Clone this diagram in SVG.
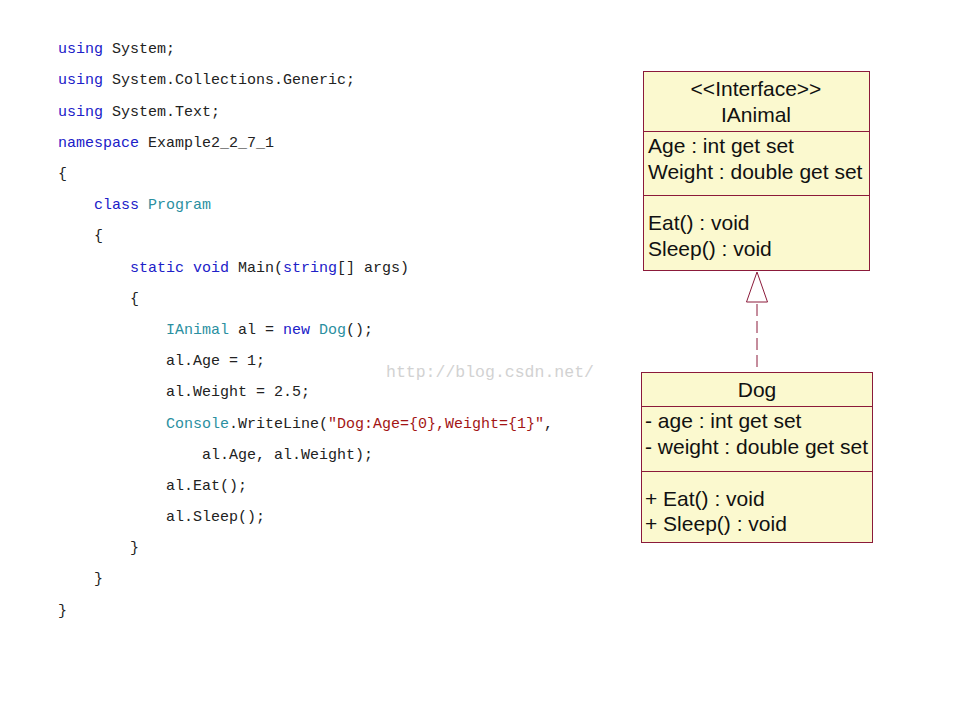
<svg xmlns="http://www.w3.org/2000/svg" width="960" height="720" viewBox="0 0 960 720">
<style>
.code{font-family:"Liberation Mono","DejaVu Sans Mono",monospace;font-size:15px;fill:#222}
.kw{fill:#2020c8}
.ty{fill:#2b8f9f}
.st{fill:#a31515}
.wm{font-family:"Liberation Mono",monospace;font-size:16.5px;fill:#d2d2d2}
.box{fill:#fbf9cf;stroke:#8b1a3a;stroke-width:1}
.div{stroke:#8b1a3a;stroke-width:1}
.uml{font-family:"Liberation Sans",Arial,sans-serif;font-size:21px;fill:#111}
.c{text-anchor:middle}
</style>
<rect width="960" height="720" fill="#ffffff"/>
<g id="code" class="code" xml:space="preserve">
<text x="58" y="53"><tspan class="kw">using</tspan> System;</text>
<text x="58" y="84"><tspan class="kw">using</tspan> System.Collections.Generic;</text>
<text x="58" y="116"><tspan class="kw">using</tspan> System.Text;</text>
<text x="58" y="147"><tspan class="kw">namespace</tspan> Example2_2_7_1</text>
<text x="58" y="178">{</text>
<text x="94" y="209"><tspan class="kw">class</tspan> <tspan class="ty">Program</tspan></text>
<text x="94" y="240">{</text>
<text x="130" y="272"><tspan class="kw">static</tspan> <tspan class="kw">void</tspan> Main(<tspan class="kw">string</tspan>[] args)</text>
<text x="130" y="303">{</text>
<text x="166" y="334"><tspan class="ty">IAnimal</tspan> al = <tspan class="kw">new</tspan> <tspan class="ty">Dog</tspan>();</text>
<text x="166" y="365">al.Age = 1;</text>
<text x="166" y="396">al.Weight = 2.5;</text>
<text x="166" y="428"><tspan class="ty">Console</tspan>.WriteLine(<tspan class="st">"Dog:Age={0},Weight={1}"</tspan>,</text>
<text x="202" y="459">al.Age, al.Weight);</text>
<text x="166" y="490">al.Eat();</text>
<text x="166" y="521">al.Sleep();</text>
<text x="130" y="552">}</text>
<text x="94" y="583">}</text>
<text x="58" y="615">}</text>
</g>
<text class="wm" x="386" y="377">http://blog.csdn.net/</text>
<g id="connectors">
<line x1="757" y1="304" x2="757" y2="372" stroke="#8b1a3a" stroke-width="1" stroke-dasharray="12,5"/>
<polygon points="757,272 746.5,302 767.5,302" fill="#ffffff" stroke="#8b1a3a" stroke-width="1"/>
</g>
<g id="IAnimal">
<rect class="box" x="643.5" y="71.5" width="226" height="199"/>
<line class="div" x1="643.5" y1="131.5" x2="869.5" y2="131.5"/>
<line class="div" x1="643.5" y1="195.5" x2="869.5" y2="195.5"/>
<text class="uml c" x="756" y="96">&lt;&lt;Interface&gt;&gt;</text>
<text class="uml c" x="756" y="122">IAnimal</text>
<text class="uml" x="648" y="153">Age : int get set</text>
<text class="uml" x="648" y="179">Weight : double get set</text>
<text class="uml" x="648" y="230">Eat() : void</text>
<text class="uml" x="648" y="256">Sleep() : void</text>
</g>
<g id="Dog">
<rect class="box" x="641.5" y="372.5" width="231" height="170"/>
<line class="div" x1="641.5" y1="406.5" x2="872.5" y2="406.5"/>
<line class="div" x1="641.5" y1="471.5" x2="872.5" y2="471.5"/>
<text class="uml c" x="757" y="397">Dog</text>
<text class="uml" x="645" y="428">- age : int get set</text>
<text class="uml" x="645" y="454">- weight : double get set</text>
<text class="uml" x="645" y="506">+ Eat() : void</text>
<text class="uml" x="645" y="531">+ Sleep() : void</text>
</g>
</svg>
